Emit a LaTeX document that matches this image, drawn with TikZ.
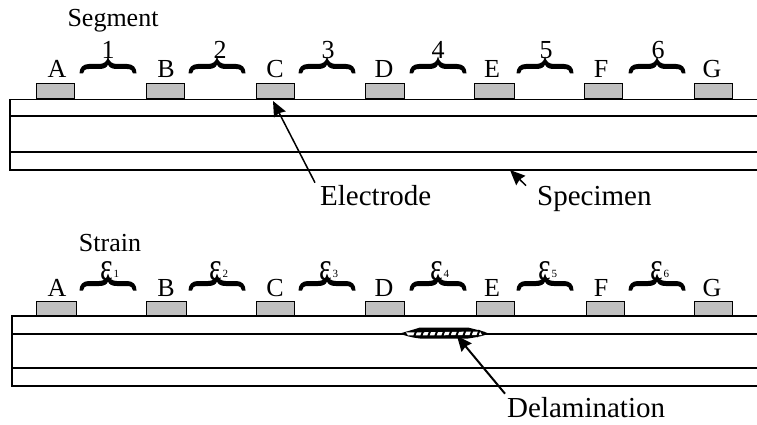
\documentclass[tikz,border=0pt]{standalone}
\usepackage{fontspec}
\setmainfont{Liberation Serif}
\usetikzlibrary{arrows.meta}
\tikzset{
  electrode/.style={draw=black,fill=gray75,line width=1pt,minimum height=15pt,inner sep=0pt,anchor=south west},
  plate/.style={line width=1.5pt},
  lbl/.style={font=\fontsize{26}{26}\selectfont,inner sep=0pt,anchor=base},
  bigl/.style={font=\fontsize{29}{29}\selectfont,inner sep=0pt,anchor=base west},
  pointer/.style={line width=1.5pt,-{Stealth[length=15pt,width=13pt,inset=1.5pt]}},
  pics/curly/.style={code={
    \fill (-28.5,15) .. controls (-28.5,9) and (-25,5.5) .. (-19,5.5)
      -- (-9,5.5) .. controls (-4,5.5) and (-1,3) .. (0,-2)
      .. controls (1,3) and (4,5.5) .. (9,5.5) -- (19,5.5)
      .. controls (25,5.5) and (28.5,9) .. (28.5,15)
      -- (25,15) .. controls (25,12) and (23,10.5) .. (19,10.5)
      -- (9,10.5) .. controls (4,10.5) and (1,9) .. (0,6)
      .. controls (-1,9) and (-4,10.5) .. (-9,10.5) -- (-19,10.5)
      .. controls (-23,10.5) and (-25,12) .. (-25,15) -- cycle;
  }}
}
\definecolor{gray75}{RGB}{192,192,192}
\begin{document}
\begin{tikzpicture}[x=1pt,y=-1pt]
\useasboundingbox (0,0) rectangle (757,425);
% upper specimen
\draw[plate] (757,99.5) -- (10,99.5) -- (10,170) -- (757,170);
\draw[plate] (10,116) -- (757,116);
\draw[plate] (10,152) -- (757,152);
% lower specimen
\draw[plate] (757,316) -- (12,316) -- (12,386) -- (757,386);
\draw[plate] (12,334) -- (757,334);
\draw[plate] (12,368) -- (757,368);
% electrodes
\foreach \n/\x/\w in {A/36/38,B/146/38,C/256/38,D/365/39,E/474/40,F/584/38,G/694/38}{
  \node[electrode,minimum width=\w pt] (top\n) at (\x,99.5) {};
}
\foreach \n/\x/\w in {A/36/40,B/146/40,C/256/38,D/365/39,E/476/38,F/586/38,G/694/38}{
  \node[electrode,minimum width=\w pt,minimum height=14pt] (bot\n) at (\x,316) {};
}
% letters
\foreach \n/\x in {A/57,B/166,C/275,D/384,E/492,F/601,G/712}{
  \node[lbl] (ltop\n) at (\x,78) {\n};
  \node[lbl] (lbot\n) at (\x,296) {\n};
}
% braces
\foreach \x in {108,217,327,438,545,657}{
  \pic at (\x,58.5) {curly};
  \pic at (\x,275.5) {curly};
}
% segment numbers
\foreach \t/\x in {1/108,2/220,3/328,4/438,5/546,6/658}{
  \node[lbl] (seg\t) at (\x,59) {\t};
}
% strain symbols
\foreach \t/\x in {1/110,2/219,3/329,4/440,5/548,6/660}{
  \node[lbl] (eps\t) at (\x,280) {\scalebox{1.15}[1.55]{ε}\raisebox{3pt}{\fontsize{11}{11}\selectfont\t}};
}
\node[lbl] (segment) at (113,27) {Segment};
\node[lbl] (strain) at (110,251) {Strain};
% delamination
\fill (400,333.5) .. controls (408,331) and (414,329.5) .. (420,327.5) -- (468,327.5)
  .. controls (475,329.5) and (484,331) .. (488.5,333.5)
  .. controls (484,336) and (475,337.5) .. (468,338.5) -- (420,338.5)
  .. controls (412,337.5) and (405,336) .. (400,333.5) -- cycle;
\fill[white] (406,332.5) -- (480,331.5) -- (482,335) -- (408,335.5) -- cycle;
\foreach \x in {414,421,...,477}{
  \draw[line width=2pt] (\x,337) -- (\x+2.5,330);
}
% labels and pointers
\node[bigl] (electrodelabel) at (320,205) {Electrode};
\node[bigl] (specimenlabel) at (537,205) {Specimen};
\node[bigl] (delamlabel) at (507,417) {Delamination};
\coordinate (electrodetip) at (273,101);
\coordinate (specimentip) at (510,170);
\coordinate (delamtip) at (457,336);
\draw[pointer] (electrodelabel.north west) ++(-5,-2) -- (electrodetip);
\draw[pointer] (specimenlabel.north west) ++(-11,0) -- (specimentip);
\draw[pointer,line width=2pt] (delamlabel.north west) ++(-2,-3) -- (delamtip);
\end{tikzpicture}
\end{document}
